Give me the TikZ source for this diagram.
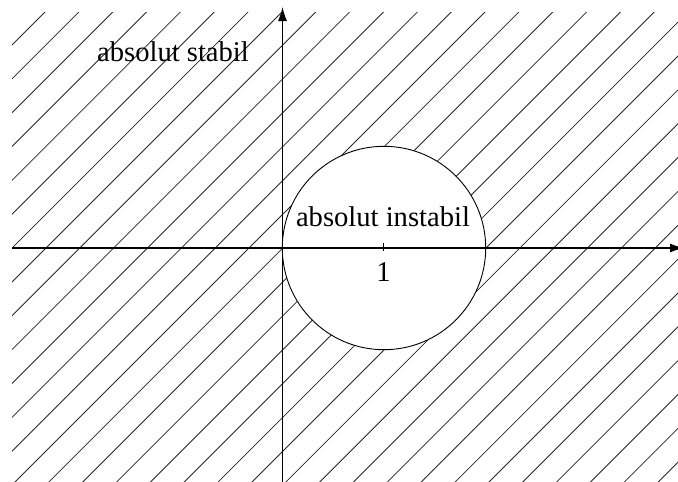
\documentclass[tikz,border=0pt]{standalone}
\usepackage{fontspec}
\setmainfont{Liberation Serif}
\usetikzlibrary{arrows.meta}
\begin{document}
\begin{tikzpicture}[x=1pt,y=-1pt,
  hatch/.style={line width=0.8pt,black!85},
  axis/.style={line width=1.2pt,-{Latex[length=14pt,width=9pt]}},
  lbl/.style={font=\fontsize{28.6}{34}\selectfont,anchor=base,inner sep=0pt}]
\useasboundingbox (0,0) rectangle (678,482);
\clip (0,0) rectangle (678,482);
\begin{scope}
  \clip (12,12) rectangle (678,482);
  \foreach \k in {-2,...,36}{
    \pgfmathsetmacro{\c}{57+33.85*\k}
    \draw[hatch] ({\c-600},600) -- ({\c+600},-600);
  }
\end{scope}
\node[circle,draw,fill=white,line width=0.9pt,minimum size=203.4pt,inner sep=0pt] (circ) at (384,248) {};
\coordinate (xl) at (12,248);
\coordinate (xr) at (684,248);
\coordinate (yb) at (282.5,490);
\coordinate (yt) at (282.5,7);
\draw[axis] (xl) -- (xr);
\draw[axis] (yb) -- (yt);
\coordinate (t1) at (383.5,243);
\coordinate (t2) at (383.5,251);
\draw[line width=0.8pt] (t1) -- (t2);
\node[lbl] (stab) at (173,61.7) {absolut stabil};
\node[lbl] (inst) at (383,226.7) {absolut instabil};
\node[lbl] (one) at (383.5,281.7) {1};
\end{tikzpicture}
\end{document}
